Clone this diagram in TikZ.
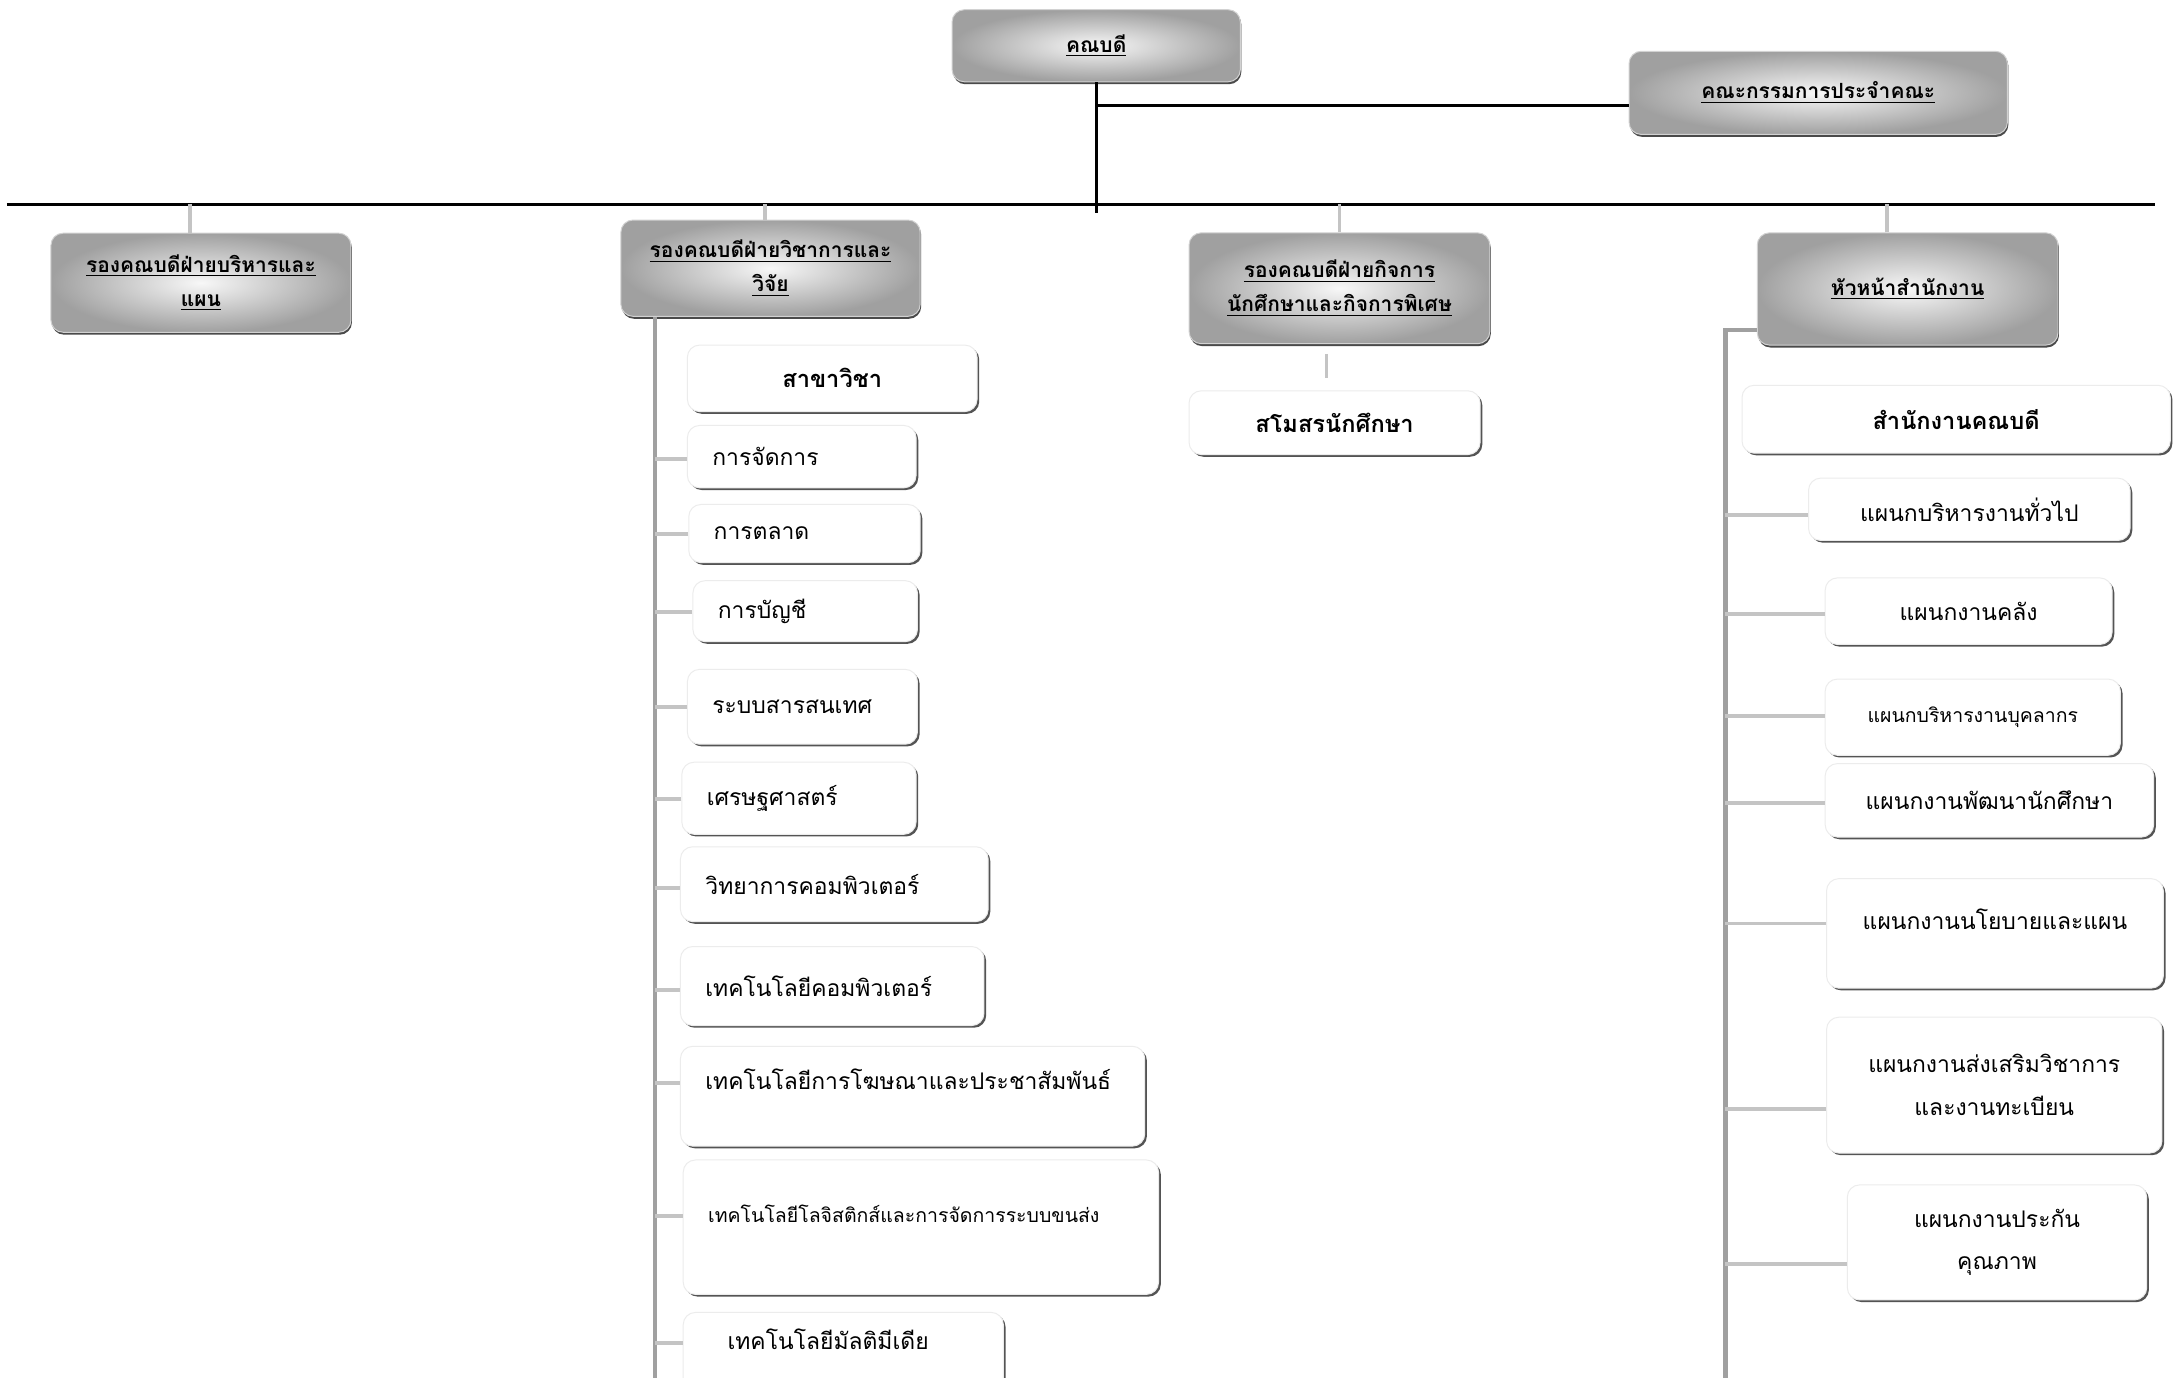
\documentclass[tikz,border=0pt]{standalone}
\usepackage{fontspec}
\setmainfont[Script=Thai]{Loma}
\usetikzlibrary{shadows, calc}
\definecolor{bargray}{RGB}{160, 160, 160}
\definecolor{tickgray}{RGB}{196, 196, 196}
\definecolor{boxgray}{RGB}{160, 160, 160}
\definecolor{edgegray}{RGB}{55, 55, 55}
\newcommand{\unitfont}{\fontsize{9.4}{17.5}\selectfont}
\newcommand{\smallunit}{\fontsize{8}{14}\selectfont}

\begin{document}
\begin{tikzpicture}[
        font=\unitfont,
        headbox/.style={
            rectangle,
            rounded corners=5pt,
            draw=gray!35,
            inner color=gray!6,
            outer color=boxgray,
            drop shadow={shadow xshift=0.4pt, shadow yshift=-1pt, fill=edgegray, opacity=0.9},
            align=center,
            font=\fontsize{8.6}{14}\selectfont\bfseries
        },
        subbox/.style={
            rectangle,
            rounded corners=5pt,
            draw=gray!15,
            fill=white,
            drop shadow={shadow xshift=0.9pt, shadow yshift=-0.9pt, fill=edgegray, opacity=0.85},
            inner xsep=0.36cm,
            align=left
        },
        unitbox/.style={subbox, align=center, inner xsep=0pt},
        titlebox/.style={unitbox, font=\fontsize{9.7}{17.5}\selectfont\bfseries},
        bus/.style={line width=1.2pt, draw=black},
        link/.style={line width=1.4pt, draw=tickgray},
        spine/.style={line width=1.8pt, draw=bargray},
        tick/.style={line width=1.6pt, draw=tickgray}
    ]
        \useasboundingbox[fill=white] (0,0) rectangle (31.36,-19.88);

        % top level
        \node[headbox, minimum width=4.16cm, minimum height=1.04cm] (dean) at (15.82,-0.66) {\underline{คณบดี}};
        \node[headbox, minimum width=5.46cm, minimum height=1.2cm] (board) at (26.24,-1.34) {\underline{คณะกรรมการประจำคณะ}};

        \node[headbox, minimum width=4.33cm, minimum height=1.43cm] (vpadmin) at (2.9,-4.08) {\underline{รองคณบดีฝ่ายบริหารและ}\\\underline{แผน}};
        \node[headbox, minimum width=4.32cm, minimum height=1.39cm] (vpacad) at (11.12,-3.87) {\underline{รองคณบดีฝ่ายวิชาการและ}\\\underline{วิจัย}};
        \node[headbox, minimum width=4.34cm, minimum height=1.6cm] (vpstudent) at (19.33,-4.16) {\underline{รองคณบดีฝ่ายกิจการ}\\\underline{นักศึกษาและกิจการพิเศษ}};
        \node[headbox, minimum width=4.34cm, minimum height=1.62cm] (headoffice) at (27.53,-4.17) {\underline{หัวหน้าสำนักงาน}};

        \coordinate (busL) at (0.1,-2.95);
        \coordinate (busR) at (31.1,-2.95);
        \coordinate (jn) at ($(dean.south)+(0,-0.33)$);
        \draw[bus] (busL) -- (busR);
        \draw[bus] (dean.south) -- ($(dean.south |- busL)+(0,-0.12)$);
        \draw[bus] (jn) -- (jn -| board.west);

        \draw[link] ([xshift=-0.16cm]vpadmin.north) -- ([xshift=-0.16cm]vpadmin.north |- busL);
        \draw[link] ([xshift=-0.08cm]vpacad.north) -- ([xshift=-0.08cm]vpacad.north |- busL);
        \draw[link] (vpstudent.north) -- (vpstudent.north |- busL);
        \draw[link] ([xshift=-0.3cm]headoffice.north) -- ([xshift=-0.3cm]headoffice.north |- busL);

        % academic branch
        \coordinate (acadtop) at ($(vpacad.south west)+(0.5,0)$);
        \draw[spine] (acadtop) -- (acadtop |- 0,-19.9);

        \node[titlebox, minimum width=4.18cm, minimum height=0.96cm] (major) at (12.01,-5.46) {สาขาวิชา};
        \node[subbox, text width=2.58cm, minimum height=0.9cm] (mgmt) at (11.57,-6.59) {การจัดการ};
        \node[subbox, text width=2.62cm, minimum height=0.84cm] (mkt) at (11.61,-7.70) {การตลาด};
        \node[subbox, text width=2.52cm, minimum height=0.88cm] (acct) at (11.62,-8.82) {การบัญชี};
        \node[subbox, text width=2.6cm, minimum height=1.08cm] (infosys) at (11.58,-10.20) {ระบบสารสนเทศ};
        \node[subbox, text width=2.66cm, minimum height=1.04cm] (econ) at (11.53,-11.52) {เศรษฐศาสตร์};
        \node[subbox, text width=3.72cm, minimum height=1.08cm] (compsci) at (12.04,-12.76) {วิทยาการคอมพิวเตอร์};
        \node[subbox, text width=3.66cm, minimum height=1.14cm] (comptech) at (12.01,-14.23) {เทคโนโลยีคอมพิวเตอร์};
        \node[subbox, text width=5.98cm, minimum height=1.44cm, text depth=0.5cm] (adpr) at (13.17,-15.82) {เทคโนโลยีการโฆษณาและประชาสัมพันธ์};
        \node[subbox, text width=6.14cm, minimum height=1.94cm, text depth=0.4cm, font=\smallunit] (logist) at (13.29,-17.71) {เทคโนโลยีโลจิสติกส์และการจัดการระบบขนส่ง};
        \node[subbox, inner xsep=0.64cm, text width=3.34cm, minimum height=1.26cm, text depth=0.48cm] (multimedia) at (12.17,-19.57) {เทคโนโลยีมัลติมีเดีย};

        \foreach \unit in {mgmt, mkt, acct, infosys, econ, compsci, comptech, adpr, logist, multimedia}
            \draw[tick] (\unit.mid west) -- (\unit.mid west -| acadtop);

        % student affairs
        \node[titlebox, minimum width=4.2cm, minimum height=0.92cm] (club) at (19.26,-6.10) {สโมสรนักศึกษา};
        \draw[link, shorten <=0.14cm, shorten >=0.18cm] ([xshift=-0.19cm]vpstudent.south) -- ([xshift=-0.19cm]vpstudent.south |- club.north);

        % office branch
        \coordinate (officetop) at (24.9,-4.76);
        \draw[spine] (officetop |- 0,-19.9) -- (officetop) -- (officetop -| headoffice.west);

        \node[titlebox, minimum width=6.18cm, minimum height=0.98cm] (office) at (28.23,-6.05) {สำนักงานคณบดี};
        \node[unitbox, minimum width=4.64cm, minimum height=0.9cm] (general) at (28.42,-7.35) {แผนกบริหารงานทั่วไป};
        \node[unitbox, minimum width=4.14cm, minimum height=0.96cm] (finance) at (28.41,-8.82) {แผนกงานคลัง};
        \node[unitbox, minimum width=4.26cm, minimum height=1.1cm, font=\smallunit] (personnel) at (28.47,-10.35) {แผนกบริหารงานบุคลากร};
        \node[unitbox, minimum width=4.74cm, minimum height=1.06cm] (devstud) at (28.71,-11.55) {แผนกงานพัฒนานักศึกษา};
        \node[unitbox, minimum width=4.86cm, minimum height=1.58cm, text depth=0.4cm] (policy) at (28.79,-13.47) {แผนกงานนโยบายและแผน};
        \node[unitbox, minimum width=4.84cm, minimum height=1.96cm] (acadreg) at (28.78,-15.66) {แผนกงานส่งเสริมวิชาการ\\และงานทะเบียน};
        \node[unitbox, minimum width=4.32cm, minimum height=1.66cm] (quality) at (28.82,-17.93) {แผนกงานประกัน\\คุณภาพ};

        \foreach \unit in {general, finance, personnel, devstud, policy, acadreg, quality}
            \draw[tick] (\unit.mid west) -- (\unit.mid west -| officetop);
    \end{tikzpicture}
\end{document}
